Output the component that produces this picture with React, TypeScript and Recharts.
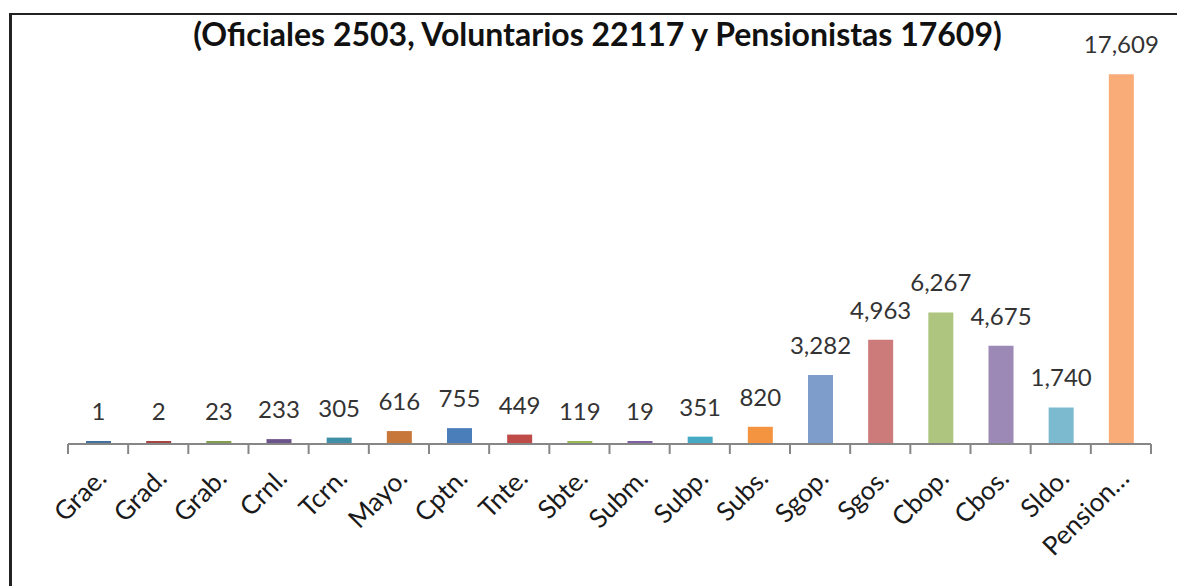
import React from "react";
import { BarChart, Bar, XAxis, YAxis, Cell, LabelList } from "recharts";

const categories = [
  "Grae.", "Grad.", "Grab.", "Crnl.", "Tcrn.", "Mayo.", "Cptn.", "Tnte.", "Sbte.",
  "Subm.", "Subp.", "Subs.", "Sgop.", "Sgos.", "Cbop.", "Cbos.", "Sldo.", "Pension…",
];
const counts = [1, 2, 23, 233, 305, 616, 755, 449, 119, 19, 351, 820, 3282, 4963, 6267, 4675, 1740, 17609];
const barColors = [
  "#44709f", "#a54542", "#829f4b", "#6b548b", "#3f90a7", "#c8773a",
  "#4a7ebb", "#be4b48", "#98b954", "#7d60a0", "#46aac5", "#f49441",
  "#7e9dcb", "#cd7b7a", "#aec57f", "#9d89b6", "#7bbacf", "#f9ab78",
];
const title = "(Oficiales 2503, Voluntarios 22117 y Pensionistas 17609)";

const data = categories.map((name, i) => ({ name, count: counts[i], color: barColors[i] }));

const W = 1177;
const H = 586;
const margin = { top: 24, left: 68, right: 26, bottom: 42 };
const AXIS_H = 100;
const band = (W - margin.left - margin.right) / categories.length;
const FONT = "Lato, 'Open Sans', sans-serif";

const CategoryTick = (props: any) => {
  const { x, y, payload, index } = props;
  const top = y - 8;
  return (
    <g>
      <line x1={x - band / 2} y1={top} x2={x - band / 2} y2={top + 10} stroke="#868686" strokeWidth={2} />
      {index === categories.length - 1 && (
        <line x1={x + band / 2} y1={top} x2={x + band / 2} y2={top + 10} stroke="#868686" strokeWidth={2} />
      )}
      <text
        transform={`translate(${x + 10},${top + 36}) rotate(-45)`}
        textAnchor="end"
        fontSize={26}
        fontFamily={FONT}
        fill="#1a1a1a"
      >
        {payload.value}
      </text>
    </g>
  );
};

export default function App() {
  return (
    <div style={{ position: "relative", width: W, height: H, background: "#fff" }}>
      <style>{`body{margin:0}`}</style>
      <div
        style={{
          position: "absolute",
          left: 9,
          top: 13,
          right: 0,
          bottom: 0,
          borderLeft: "3px solid #222",
          borderTop: "2px solid #222",
        }}
      />
      <div
        style={{
          position: "absolute",
          left: 0,
          width: W,
          top: 14,
          textAlign: "center",
          fontFamily: FONT,
          fontWeight: 700,
          fontSize: 32,
          color: "#111",
          paddingLeft: 18,
          boxSizing: "border-box",
        }}
      >
        {title}
      </div>
      <div style={{ position: "absolute", left: 0, top: 0 }}>
        <BarChart width={W} height={H} data={data} margin={margin} barCategoryGap={0}>
          <XAxis
            dataKey="name"
            height={AXIS_H}
            interval={0}
            tickLine={false}
            axisLine={{ stroke: "#868686", strokeWidth: 2 }}
            tick={<CategoryTick />}
          />
          <YAxis hide domain={[0, 20000]} />
          <Bar dataKey="count" barSize={25} minPointSize={3} isAnimationActive={false}>
            {data.map((d) => (
              <Cell key={d.name} fill={d.color} />
            ))}
            <LabelList
              dataKey="count"
              position="top"
              offset={21}
              fill="#333"
              fontSize={24}
              fontFamily={FONT}
              formatter={(v: any) => Number(v).toLocaleString("en-US")}
            />
          </Bar>
        </BarChart>
      </div>
    </div>
  );
}
